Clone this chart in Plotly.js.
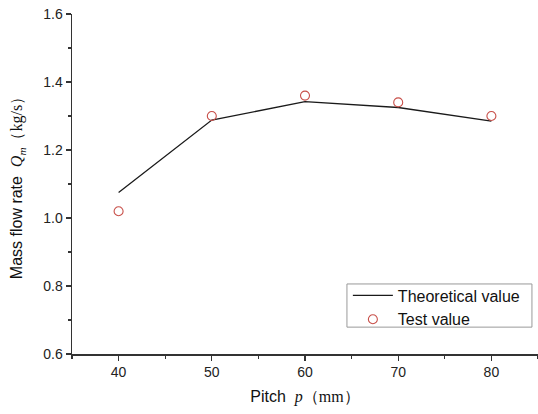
<!DOCTYPE html>
<html><head><meta charset="utf-8">
<script src="https://cdn.plot.ly/plotly-3.0.1.min.js"></script>
<style>html,body{margin:0;padding:0;background:#fff;}#chart{width:538px;height:414px;}</style>
</head><body><div id="chart"></div>
<script>
var pitch = [40, 50, 60, 70, 80];
var theoretical = [1.075, 1.288, 1.342, 1.325, 1.285];
var testValue = [1.02, 1.30, 1.36, 1.34, 1.30];
var xTicks = [40, 50, 60, 70, 80];
var yTicks = [0.6, 0.8, 1.0, 1.2, 1.4, 1.6];

var traces = [
  {x: pitch, y: theoretical, name: 'Theoretical value', mode: 'lines', type: 'scatter',
   line: {color: '#1a1a1a', width: 1.3}},
  {x: pitch, y: testValue, name: 'Test value', mode: 'markers', type: 'scatter',
   marker: {symbol: 'circle-open', size: 9, color: '#c8504a', line: {width: 1.1, color: '#c8504a'}}}
];
var ser = 'Liberation Serif, Times New Roman, serif';
var layout = {
  width: 538, height: 414,
  margin: {l: 72, r: 0, t: 14, b: 60},
  paper_bgcolor: '#fff', plot_bgcolor: '#fff',
  font: {family: 'Liberation Sans, Arial, sans-serif', size: 14, color: '#222'},
  showlegend: true,
  legend: {x: 0.592, y: 0.222, xanchor: 'left', yanchor: 'top', borderwidth: 0,
           bgcolor: 'rgba(0,0,0,0)', font: {size: 16, color: '#111'}, tracegroupgap: 0, itemwidth: 40},
  shapes: [{type: 'rect', xref: 'paper', yref: 'paper', x0: 0.590, x1: 0.987, y0: 0.079, y1: 0.206,
            line: {color: '#999', width: 1}, fillcolor: 'rgba(0,0,0,0)', layer: 'below'}],
  xaxis: {range: [35, 85], tickvals: xTicks, ticks: 'outside', ticklen: 5, tickwidth: 1.2, tickcolor: '#333',
          showline: true, linecolor: '#333', linewidth: 1.5, showgrid: false, zeroline: false,
          minor: {dtick: 5, ticks: 'outside', ticklen: 3, tickcolor: '#333', showgrid: false},
          tickfont: {size: 14, color: '#222'},
          title: {text: 'Pitch  <span style="font-family:' + ser + '"><i>p</i>（mm）</span>', font: {size: 16, color: '#111'}, standoff: 11}},
  yaxis: {range: [0.6, 1.6], tickvals: yTicks, tickformat: '.1f', ticks: 'outside', ticklen: 5, tickwidth: 1.2, tickcolor: '#333',
          showline: true, linecolor: '#333', linewidth: 1.5, showgrid: false, zeroline: false,
          minor: {dtick: 0.1, ticks: 'outside', ticklen: 3, tickcolor: '#333', showgrid: false},
          tickfont: {size: 14, color: '#222'},
          title: {text: 'Mass flow rate  <span style="font-family:' + ser + '"><i>Q<sub>m</sub></i>（kg/s）</span>', font: {size: 16, color: '#111'}, standoff: 16}}
};
Plotly.newPlot('chart', traces, layout, {displayModeBar: false, staticPlot: true});
</script></body></html>
